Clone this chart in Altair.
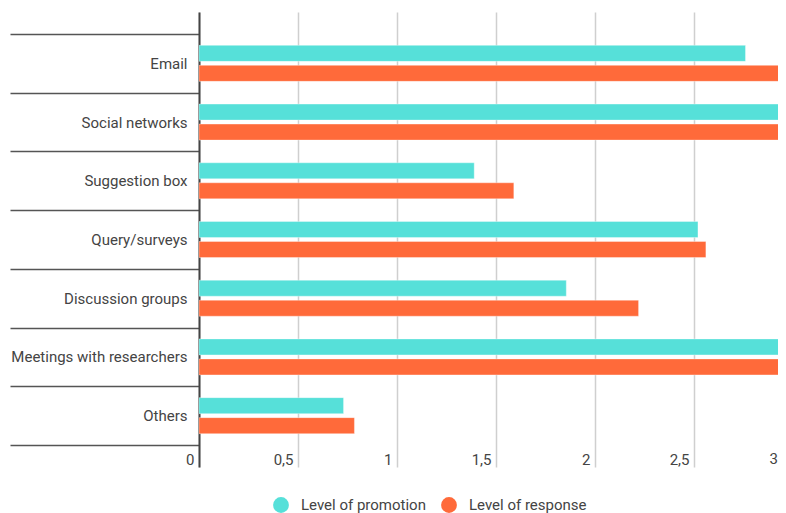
import altair as alt
import pandas as pd

categories = ["Email", "Social networks", "Suggestion box", "Query/surveys",
              "Discussion groups", "Meetings with researchers", "Others"]
series = ["Level of promotion", "Level of response"]
promotion = [2.76, 3.3, 1.39, 2.52, 1.855, 3.4, 0.73]
response = [3.1, 3.2, 1.59, 2.56, 2.22, 3.3, 0.785]
colors = ["#56E0D9", "#FF6A3A"]
x_ticks = [0, 0.5, 1, 1.5, 2, 2.5, 3]

rows = []
for c, p, r in zip(categories, promotion, response):
    rows.append({"category": c, "series": series[0], "value": p})
    rows.append({"category": c, "series": series[1], "value": r})
df = pd.DataFrame(rows)

FONT = "Roboto"
LABEL = "#444444"
FS = 15
PLOT_W = 579
PLOT_H = 455

xscale = alt.Scale(domain=[0, 2.9242], nice=False, zero=True)

bars = alt.Chart(df).mark_bar(clip=True, stroke="white", strokeOpacity=0.35, strokeWidth=1).encode(
    x=alt.X("value:Q", scale=xscale,
            axis=alt.Axis(values=x_ticks, title=None, domain=False, ticks=False,
                          grid=True, gridColor="#CFCFCF", gridWidth=1.5,
                          labelExpr="replace(format(datum.value, ''), '.', ',')",
                          labelAlign="right", labelOffset=-5,
                          labelBaseline="middle",
                          labelPadding=-8, labelFont=FONT, labelFontSize=FS,
                          labelColor=LABEL, labelFlush=False, labelOverlap=False)),
    y=alt.Y("category:N", sort=categories,
            scale=alt.Scale(paddingInner=0, paddingOuter=0.375),
            axis=alt.Axis(title=None, tickBand="extent", tickSize=189,
                          tickColor="#555555", tickWidth=1.5,
                          domain=True, domainColor="#444444", domainWidth=2,
                          labelPadding=-177, labelFont=FONT, labelFontSize=FS,
                          labelColor=LABEL)),
    yOffset=alt.YOffset("series:N", sort=series,
                        scale=alt.Scale(paddingInner=0.2, paddingOuter=0.5675)),
    color=alt.Color("series:N", sort=series,
                    scale=alt.Scale(domain=series, range=colors),
                    legend=alt.Legend(title=None, orient="none", direction="horizontal",
                                      legendX=74, legendY=485,
                                      symbolType="circle", symbolSize=250,
                                      symbolStrokeWidth=0, labelFont=FONT,
                                      labelFontSize=FS, labelColor=LABEL,
                                      columnPadding=15, symbolOffset=0,
                                      labelOffset=12, labelLimit=300)),
)

# last tick label ("3"), whose tick falls just past the visible edge
last_label = alt.Chart().mark_text(
    align="right", baseline="middle", dx=-15, font=FONT, fontSize=FS, color=LABEL
).encode(
    x=alt.X(datum=x_ticks[-1], scale=xscale),
    y=alt.value(PLOT_H - 8),
    text=alt.value(str(x_ticks[-1])),
)

chart = alt.layer(bars, last_label).properties(
    width=PLOT_W,
    height=PLOT_H,
    autosize=alt.AutoSizeParams(type="none"),
    padding={"left": 191, "top": 4, "right": 0, "bottom": 46},
).configure_view(stroke=None)

chart.save("out.html", embed_options={"renderer": "svg", "actions": False})
